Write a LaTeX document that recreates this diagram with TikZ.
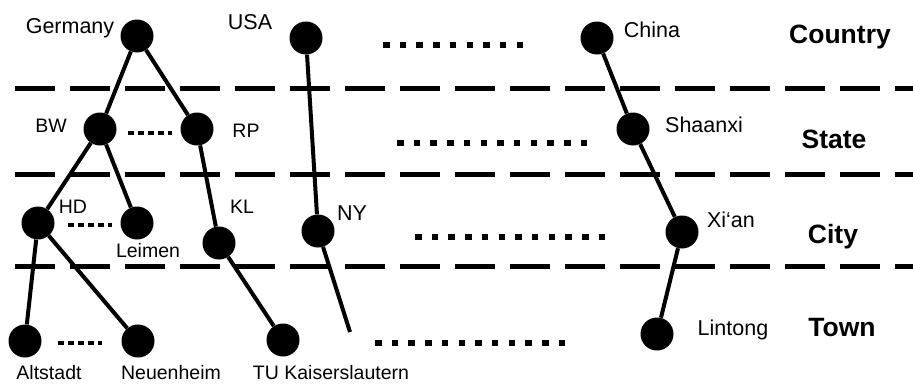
\documentclass[tikz,border=0pt]{standalone}
\usepackage{fontspec}
\setmainfont{Liberation Sans}
\begin{document}
\begin{tikzpicture}[x=1pt,y=-1pt,
  vtx/.style={circle,fill=black,inner sep=0pt,minimum size=33pt},
  edge/.style={line width=4pt},
  level/.style={line width=5pt,dash pattern=on 40pt off 15pt},
  bigdots/.style={line width=6pt,dash pattern=on 6.5pt off 10.2pt},
  smalldots/.style={line width=4.5pt,dash pattern=on 6pt off 4pt},
  lbl/.style={inner sep=0pt,anchor=base,font=\fontsize{19.5}{20}\selectfont},
  lblw/.style={inner sep=0pt,anchor=base,font=\fontsize{21.5}{22}\selectfont},
  tier/.style={inner sep=0pt,anchor=base,font=\bfseries\fontsize{26.5}{27}\selectfont}]
\useasboundingbox[fill=white] (0,0) rectangle (913,383);

% level separators
\draw[level] (15,88) -- (913,88);
\draw[level] (15,174) -- (913,174);
\draw[level] (15,266) -- (913,266);

% vertices
\node[vtx] (ger) at (137,36) {};
\node[vtx] (usa) at (306,38) {};
\node[vtx] (chn) at (597,38) {};
\node[vtx] (bw) at (100,129) {};
\node[vtx] (rp) at (197,129) {};
\node[vtx] (shx) at (633,129) {};
\node[vtx] (hd) at (38,223) {};
\node[vtx] (lei) at (137,223) {};
\node[vtx] (kl) at (219,243) {};
\node[vtx] (ny) at (318,231) {};
\node[vtx] (xian) at (682,232) {};
\node[vtx] (alt) at (25,341) {};
\node[vtx] (neu) at (138,341) {};
\node[vtx] (tuk) at (283,340) {};
\node[vtx] (lin) at (657,334) {};
\coordinate (nyend) at (350,332);

% tree edges
\draw[edge] (ger) -- (bw);
\draw[edge] (ger) -- (rp);
\draw[edge] (bw) -- (hd);
\draw[edge] (bw) -- (lei);
\draw[edge] (rp) -- (kl);
\draw[edge] (hd) -- (alt);
\draw[edge] (hd) -- (neu);
\draw[edge] (kl) -- (tuk);
\draw[edge] (usa) -- (ny);
\draw[edge] (ny) -- (nyend);
\draw[edge] (chn) -- (shx);
\draw[edge] (shx) -- (xian);
\draw[edge] (xian) -- (lin);

% ellipses between siblings and trees
\coordinate (d1a) at (383,45);  \coordinate (d1b) at (523,45);
\coordinate (d2a) at (397,143); \coordinate (d2b) at (590,143);
\coordinate (d3a) at (415,237); \coordinate (d3b) at (608,237);
\coordinate (d4a) at (375,343); \coordinate (d4b) at (568,343);
\draw[bigdots] (d1a) -- (d1b);
\draw[bigdots] (d2a) -- (d2b);
\draw[bigdots] (d3a) -- (d3b);
\draw[bigdots] (d4a) -- (d4b);
\coordinate (s1a) at (128,133); \coordinate (s1b) at (172,133);
\coordinate (s2a) at (68,225);  \coordinate (s2b) at (112,225);
\coordinate (s3a) at (58,343);  \coordinate (s3b) at (102,343);
\draw[smalldots] (s1a) -- (s1b);
\draw[smalldots] (s2a) -- (s2b);
\draw[smalldots] (s3a) -- (s3b);

% labels
\node[lblw] (tger) at (70,33) {Germany};
\node[lblw] (tusa) at (250,29) {USA};
\node[lbl] (tbw) at (51,132) {BW};
\node[lbl] (trp) at (246,137) {RP};
\node[lbl] (thd) at (73,213) {HD};
\node[lbl] (tkl) at (242,213) {KL};
\node[lblw] (tny) at (352,220) {NY};
\node[lbl] (tlei) at (148,257) {Leimen};
\node[lbl] (talt) at (49,379) {Altstadt};
\node[lbl] (tneu) at (171,379) {Neuenheim};
\node[lbl] (ttuk) at (331,379) {TU Kaiserslautern};
\node[lblw] (tchn) at (652,37) {China};
\node[lblw] (tshx) at (704,132) {Shaanxi};
\node[lblw] (txian) at (731,227) {Xi‘an};
\node[lblw] (tlin) at (733,335) {Lintong};

% tier names
\node[tier] (country) at (840,43) {Country};
\node[tier] (state) at (834,148) {State};
\node[tier] (city) at (833,243) {City};
\node[tier] (town) at (842,336) {Town};
\end{tikzpicture}
\end{document}
